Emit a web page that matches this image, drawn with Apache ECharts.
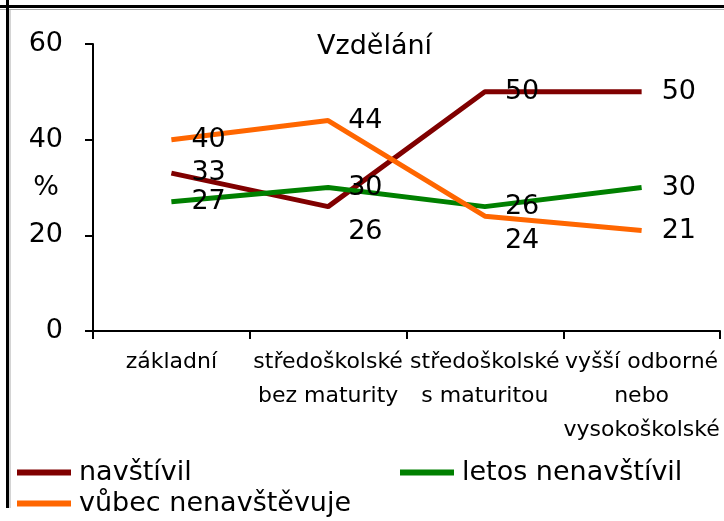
<!DOCTYPE html>
<html>
<head>
<meta charset="utf-8">
<script src="https://cdn.jsdelivr.net/npm/echarts@6/dist/echarts.min.js"></script>
<style>
html, body { margin: 0; padding: 0; background: #fff; }
#chart { width: 724px; height: 521px; }
</style>
</head>
<body>
<div id="chart"></div>
<script>
var categories = ['základní', 'středoškolské\nbez maturity', 'středoškolské\ns maturitou', 'vyšší odborné\nnebo\nvysokoškolské'];
var navstivil = [33, 26, 50, 50];
var letosNenavstivil = [27, 30, 26, 30];
var vubecNenavstevuje = [40, 44, 24, 21];
var yTicks = [0, 20, 40, 60];

var font = 'DejaVu Sans';
var chart = echarts.init(document.getElementById('chart'));

// popisky, ktere jsou posunute pod bod
var shiftDown = { 'navštívil': [1], 'vůbec nenavštěvuje': [2] };

function mkData(name, values) {
	var res = [];
	for (var i = 0; i < values.length; i++) {
		var item = { value: values[i] };
		if (shiftDown[name] && shiftDown[name].indexOf(i) >= 0) {
			item.label = { offset: [0, 25] };
		}
		res.push(item);
	}
	return res;
}

function mkSeries(name, values, color) {
	return {
		name: name,
		type: 'line',
		data: mkData(name, values),
		symbol: 'circle',
		symbolSize: 0,
		showSymbol: true,
		animation: false,
		lineStyle: { color: color, width: 5 },
		itemStyle: { color: color },
		label: {
			show: true,
			position: 'right',
			distance: 20,
			color: '#000',
			fontFamily: font,
			fontSize: 27
		}
	};
}

function mkLegend(name, left, top) {
	return {
		data: [name],
		left: left,
		top: top,
		padding: 0,
		icon: 'rect',
		itemWidth: 54,
		itemHeight: 6,
		textStyle: { fontFamily: font, fontSize: 27, color: '#000', lineHeight: 31, padding: [0, 0, 0, 3] }
	};
}

var option = {
	backgroundColor: '#fff',
	title: {
		text: 'Vzdělání',
		left: 312,
		top: 28,
		textStyle: { fontFamily: font, fontSize: 27, fontWeight: 'normal', color: '#000' }
	},
	legend: [
		mkLegend('navštívil', 17, 457),
		mkLegend('letos nenavštívil', 400, 457),
		mkLegend('vůbec nenavštěvuje', 17, 488)
	],
	grid: { left: 93, right: 4, top: 44, bottom: 190, containLabel: false, outerBoundsMode: 'none' },
	xAxis: {
		type: 'category',
		data: categories,
		boundaryGap: true,
		axisLine: { lineStyle: { color: '#000', width: 2 } },
		axisTick: { show: true, length: 8, lineStyle: { color: '#000', width: 2 } },
		axisLabel: {
			interval: 0,
			margin: 14,
			color: '#000',
			fontFamily: font,
			fontSize: 22,
			lineHeight: 34,
			align: 'center'
		}
	},
	yAxis: {
		type: 'value',
		min: yTicks[0],
		max: yTicks[yTicks.length - 1],
		interval: 20,
		name: '%',
		nameLocation: 'middle',
		nameGap: 34,
		nameRotate: 0,
		nameMoveOverlap: false,
		nameTextStyle: { fontFamily: font, fontSize: 27, color: '#000', padding: [26, 0, 0, 0] },
		splitLine: { show: false },
		axisLine: { show: true, lineStyle: { color: '#000', width: 2 } },
		axisTick: { show: true, length: 8, lineStyle: { color: '#000', width: 2 } },
		axisLabel: { margin: 30, color: '#000', fontFamily: font, fontSize: 27 }
	},
	graphic: [
		{ type: 'line', shape: { x1: 0, y1: 6.5, x2: 724, y2: 6.5 }, style: { stroke: '#000', lineWidth: 3 } },
		{ type: 'line', shape: { x1: 0, y1: 9.5, x2: 724, y2: 9.5 }, style: { stroke: '#aaa', lineWidth: 1 } },
		{ type: 'line', shape: { x1: 7.5, y1: 0, x2: 7.5, y2: 508 }, style: { stroke: '#000', lineWidth: 3 } },
		{ type: 'line', shape: { x1: 10, y1: 10, x2: 10, y2: 508 }, style: { stroke: '#aaa', lineWidth: 1 } }
	],
	series: [
		mkSeries('navštívil', navstivil, '#800000'),
		mkSeries('letos nenavštívil', letosNenavstivil, '#008000'),
		mkSeries('vůbec nenavštěvuje', vubecNenavstevuje, '#ff6600')
	]
};
chart.setOption(option);
window.onresize = chart.resize;
</script>
</body>
</html>
